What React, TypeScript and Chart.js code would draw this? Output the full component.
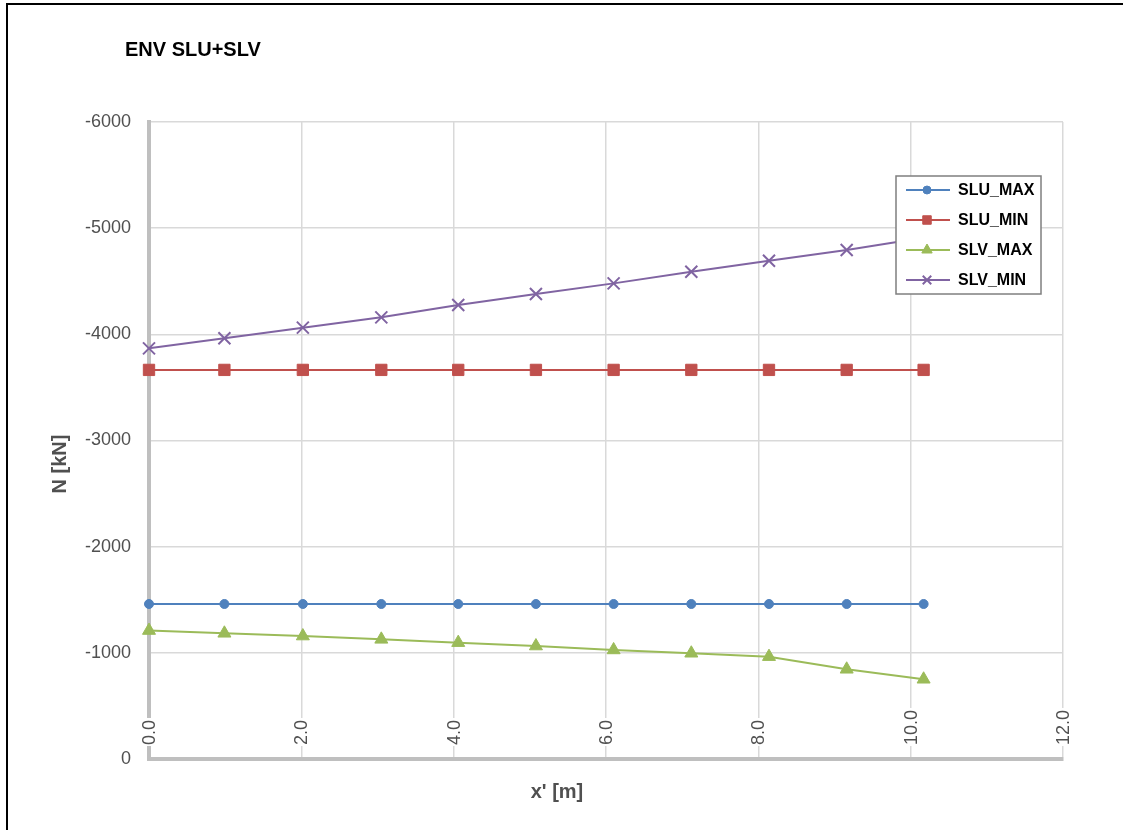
import React, { useEffect, useRef } from 'react';
import { Chart, registerables } from 'chart.js';
import { drawPoint } from 'chart.js/helpers';

Chart.register(...registerables);

// ---- data ----
const xPositions = [0, 0.99, 2.02, 3.05, 4.06, 5.08, 6.1, 7.12, 8.14, 9.16, 10.17];
const sluMax = [-1460, -1460, -1460, -1460, -1460, -1460, -1460, -1460, -1460, -1460, -1460];
const sluMin = [-3665, -3665, -3665, -3665, -3665, -3665, -3665, -3665, -3665, -3665, -3665];
const slvMax = [-1210, -1184, -1158, -1127, -1096, -1064, -1027, -996, -964, -845, -751];
const slvMin = [-3868, -3963, -4063, -4160, -4276, -4380, -4480, -4590, -4693, -4794, -4910];
const seriesNames = ['SLU_MAX', 'SLU_MIN', 'SLV_MAX', 'SLV_MIN'];
const xTickValues = [0, 2, 4, 6, 8, 10, 12];
const xTickLabels = ['0.0', '2.0', '4.0', '6.0', '8.0', '10.0', '12.0'];
const chartTitle = 'ENV SLU+SLV';
const xTitle = "x' [m]";
const yTitle = 'N [kN]';

const FONT = '"Liberation Sans", Arial, sans-serif';
const GRID = '#D9D9D9';
const AXIS = '#BFBFBF';
const TEXT = '#505050';

const decor = {
  id: 'decor',
  beforeDraw(chart: any) {
    const ctx = chart.ctx;
    ctx.save();
    ctx.fillStyle = '#ffffff';
    ctx.fillRect(0, 0, chart.width, chart.height);
    ctx.restore();
  },
  beforeDatasetsDraw(chart: any) {
    const ctx = chart.ctx;
    const xs = chart.scales.x;
    ctx.save();
    ctx.font = `18px ${FONT}`;
    xTickValues.forEach((v, i) => {
      const px = xs.getPixelForValue(v);
      const label = xTickLabels[i];
      const w = ctx.measureText(label).width;
      const baseY = 745;
      ctx.fillStyle = '#ffffff';
      ctx.fillRect(px - 7, baseY - w - 2, 14, w + 3);
      ctx.save();
      ctx.translate(px + 1, baseY);
      ctx.rotate(-Math.PI / 2);
      ctx.fillStyle = TEXT;
      ctx.textAlign = 'left';
      ctx.textBaseline = 'middle';
      ctx.fillText(label, 0, 0);
      ctx.restore();
    });
    ctx.restore();
  },
  afterDraw(chart: any) {
    const ctx = chart.ctx;
    ctx.save();
    // chart title
    ctx.fillStyle = '#000000';
    ctx.font = `bold 20px ${FONT}`;
    ctx.textAlign = 'left';
    ctx.textBaseline = 'middle';
    ctx.fillText(chartTitle, 125, 50);
    // axis titles
    ctx.fillStyle = TEXT;
    ctx.textAlign = 'center';
    ctx.fillText(xTitle, 557, 792);
    ctx.save();
    ctx.translate(60, 464);
    ctx.rotate(-Math.PI / 2);
    ctx.fillText(yTitle, 0, 0);
    ctx.restore();

    // legend
    const lx = 896, ly = 176, lw = 145, lh = 118;
    ctx.fillStyle = '#ffffff';
    ctx.fillRect(lx, ly, lw, lh);
    ctx.strokeStyle = '#7F7F7F';
    ctx.lineWidth = 1.5;
    ctx.strokeRect(lx, ly, lw, lh);
    const rows = [190, 220, 250, 280];
    const legendRadius = [4, 6, 6, 6];
    chart.data.datasets.forEach((ds: any, i: number) => {
      const y = rows[i];
      ctx.strokeStyle = ds.borderColor;
      ctx.lineWidth = 2;
      ctx.beginPath();
      ctx.moveTo(906, y);
      ctx.lineTo(950, y);
      ctx.stroke();
      ctx.fillStyle = ds.pointBackgroundColor;
      ctx.strokeStyle = ds.pointBorderColor;
      ctx.lineWidth = ds.pointStyle === 'crossRot' ? 2 : 1;
      drawPoint(ctx, { pointStyle: ds.pointStyle, rotation: 0, radius: legendRadius[i], borderWidth: ctx.lineWidth }, 927, y);
      ctx.fillStyle = '#000000';
      ctx.font = `bold 16px ${FONT}`;
      ctx.textAlign = 'left';
      ctx.textBaseline = 'middle';
      ctx.fillText(ds.label, 958, y + 1);
    });

    // outer frame
    ctx.strokeStyle = '#000000';
    ctx.lineWidth = 2;
    ctx.beginPath();
    ctx.moveTo(7, chart.height + 5);
    ctx.lineTo(7, 4);
    ctx.lineTo(chart.width + 5, 4);
    ctx.stroke();
    ctx.restore();
  },
};

function makeData(values: number[]) {
  return xPositions.map((x, i) => ({ x, y: values[i] }));
}

export default function App() {
  const canvasRef = useRef<HTMLCanvasElement | null>(null);

  useEffect(() => {
    if (!canvasRef.current) return;
    const colors = ['#4F81BD', '#C0504D', '#9BBB59', '#8064A2'];
    const styles = ['circle', 'rect', 'triangle', 'crossRot'];
    const radii = [4.5, 8, 7.5, 8.5];
    const allValues = [sluMax, sluMin, slvMax, slvMin];
    const chart = new Chart(canvasRef.current, {
      type: 'line',
      data: {
        datasets: allValues.map((vals, i) => ({
          label: seriesNames[i],
          data: makeData(vals),
          borderColor: colors[i],
          backgroundColor: colors[i],
          borderWidth: 2,
          pointStyle: styles[i] as any,
          pointRadius: radii[i],
          pointBackgroundColor: colors[i],
          pointBorderColor: colors[i],
          pointBorderWidth: styles[i] === 'crossRot' ? 2 : 1,
          tension: 0,
          fill: false,
          clip: false as any,
        })),
      },
      options: {
        animation: false,
        responsive: false,
        events: [],
        layout: { padding: { top: 122, right: 60, left: 0, bottom: 0 } },
        plugins: {
          legend: { display: false },
          title: { display: false },
          tooltip: { enabled: false },
        },
        scales: {
          x: {
            type: 'linear',
            min: 0,
            max: 12,
            ticks: { stepSize: 2, display: false },
            grid: { color: GRID, lineWidth: 1.5, drawTicks: false },
            border: { display: true, color: AXIS, width: 4 },
            afterFit(s: any) {
              s.height = 71;
            },
          },
          y: {
            type: 'linear',
            min: -6000,
            max: 0,
            reverse: true,
            ticks: {
              stepSize: 1000,
              padding: 18,
              color: TEXT,
              font: { family: FONT, size: 18 },
              callback: (v: any) => String(v),
            },
            grid: { color: GRID, lineWidth: 1.5, drawTicks: false },
            border: { display: true, color: AXIS, width: 4 },
            afterFit(s: any) {
              s.width = 149;
            },
          },
        },
      },
      plugins: [decor],
    });
    return () => chart.destroy();
  }, []);

  return (
    <div style={{ position: 'fixed', left: 0, top: 0, width: 1123, height: 830, background: '#fff' }}>
      <canvas ref={canvasRef} width={1123} height={830} style={{ display: 'block' }} />
    </div>
  );
}
